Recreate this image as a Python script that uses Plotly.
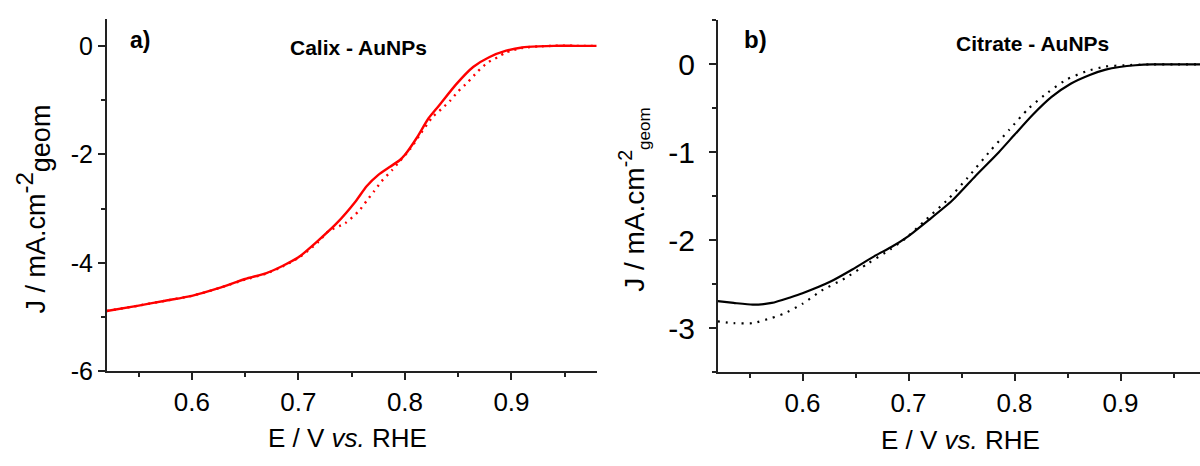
import plotly.graph_objects as go

# ---------------- data ----------------
# Panel a) Calix - AuNPs (red)
E_A_SOLID = [0.52, 0.55, 0.575, 0.60, 0.625, 0.65, 0.67, 0.685, 0.70, 0.718, 0.736, 0.754,
             0.764, 0.775, 0.786, 0.795, 0.80, 0.811, 0.822, 0.832, 0.848, 0.864, 0.879,
             0.895, 0.91, 0.925, 0.94, 0.96, 0.98]
J_A_SOLID = [-4.89, -4.79, -4.70, -4.61, -4.47, -4.30, -4.19, -4.06, -3.90, -3.60, -3.27, -2.86,
             -2.59, -2.38, -2.23, -2.11, -2.01, -1.70, -1.34, -1.10, -0.71, -0.39, -0.21,
             -0.09, -0.03, -0.01, 0.0, 0.0, 0.0]
E_A_DOT = [0.52, 0.55, 0.575, 0.60, 0.625, 0.65, 0.67, 0.685, 0.70, 0.718, 0.728, 0.744, 0.757,
           0.764, 0.771, 0.778, 0.788, 0.795, 0.805, 0.815, 0.826, 0.834, 0.842, 0.8495, 0.859,
           0.868, 0.8776, 0.887, 0.895, 0.91, 0.925, 0.94, 0.96, 0.98]
J_A_DOT = [-4.89, -4.79, -4.70, -4.61, -4.47, -4.31, -4.20, -4.07, -3.91, -3.63, -3.42, -3.27, -3.04,
           -2.86, -2.68, -2.50, -2.29, -2.13, -1.90, -1.61, -1.31, -1.17, -1.02, -0.85, -0.67,
           -0.48, -0.31, -0.21, -0.12, -0.04, -0.01, 0.0, 0.0, 0.0]

# Panel b) Citrate - AuNPs (black)
E_B_SOLID = [0.52, 0.535, 0.553, 0.571, 0.589, 0.60, 0.626, 0.647, 0.669, 0.683, 0.70, 0.719,
             0.741, 0.763, 0.785, 0.80, 0.817, 0.835, 0.853, 0.871, 0.886, 0.899, 0.914, 0.93,
             0.95, 0.975]
J_B_SOLID = [-2.69, -2.71, -2.73, -2.71, -2.645, -2.60, -2.47, -2.33, -2.17, -2.08, -1.95, -1.77,
             -1.55, -1.27, -1.00, -0.80, -0.575, -0.37, -0.22, -0.12, -0.06, -0.03, -0.01, 0.0,
             0.0, 0.0]
E_B_DOT = [0.52, 0.535, 0.553, 0.571, 0.582, 0.60, 0.618, 0.64, 0.662, 0.683, 0.698, 0.716,
           0.7375, 0.7556, 0.7773, 0.7953, 0.8133, 0.8314, 0.8494, 0.8675, 0.8856, 0.904, 0.93,
           0.95, 0.975]
J_B_DOT = [-2.92, -2.94, -2.94, -2.88, -2.835, -2.72, -2.57, -2.43, -2.26, -2.10, -1.97, -1.77,
           -1.53, -1.29, -0.98, -0.74, -0.50, -0.32, -0.17, -0.08, -0.025, -0.01, 0.0, 0.0, 0.0]

# tick labels
X_TICKS = [0.6, 0.7, 0.8, 0.9]
X_LABELS = ["0.6", "0.7", "0.8", "0.9"]
A_Y_TICKS = [-6, -4, -2, 0]
A_Y_LABELS = ["-6", "-4", "-2", "0"]
B_Y_TICKS = [-3, -2, -1, 0]
B_Y_LABELS = ["-3", "-2", "-1", "0"]

FONT = "Arial, Liberation Sans, sans-serif"
W, H = 1200, 466
AX = "#222222"

def px(x):
    return x / W

def py(y):
    return 1 - y / H

fig = go.Figure()
fig.add_trace(go.Scatter(x=E_A_DOT, y=J_A_DOT, mode="lines", xaxis="x", yaxis="y",
                         line=dict(color="#ff0000", width=2.4, dash="2px,5px", shape="spline", smoothing=0.6)))
fig.add_trace(go.Scatter(x=E_A_SOLID, y=J_A_SOLID, mode="lines", xaxis="x", yaxis="y",
                         line=dict(color="#ff0000", width=2.4, shape="spline", smoothing=0.6)))
fig.add_trace(go.Scatter(x=E_B_DOT, y=J_B_DOT, mode="lines", xaxis="x2", yaxis="y2",
                         line=dict(color="#000000", width=2.2, dash="2px,6px", shape="spline", smoothing=0.6)))
fig.add_trace(go.Scatter(x=E_B_SOLID, y=J_B_SOLID, mode="lines", xaxis="x2", yaxis="y2",
                         line=dict(color="#000000", width=2.2, shape="spline", smoothing=0.6)))

common = dict(showgrid=False, zeroline=False, showline=True, linecolor=AX, linewidth=1.5,
              ticks="outside", ticklen=7, tickwidth=1.5, tickcolor=AX, tickmode="array")

fig.update_layout(
    width=W, height=H, margin=dict(l=0, r=0, t=0, b=0),
    paper_bgcolor="white", plot_bgcolor="white", showlegend=False,
    font=dict(family=FONT, color="#000000", size=16),
    xaxis=dict(domain=[px(106.7), px(596.7)], range=[0.52, 0.98], anchor="y",
               tickvals=X_TICKS, ticktext=X_LABELS, tickfont=dict(size=26, family=FONT),
               minor=dict(ticks="outside", ticklen=4, tickwidth=1.5, tickcolor=AX, tick0=0.55, dtick=0.1),
               **common),
    yaxis=dict(domain=[py(382.7), py(19.3)], range=[-6, 0.5], anchor="x",
               tickvals=A_Y_TICKS, ticktext=A_Y_LABELS, tickfont=dict(size=25, family=FONT),
               minor=dict(ticks="outside", ticklen=4, tickwidth=1.5, tickcolor=AX, tick0=-5, dtick=2),
               **common),
    xaxis2=dict(domain=[px(717.7), 1.0], range=[0.52, 0.975], anchor="y2",
                tickvals=X_TICKS, ticktext=X_LABELS, tickfont=dict(size=26, family=FONT),
                minor=dict(ticks="outside", ticklen=4, tickwidth=1.5, tickcolor=AX, tick0=0.55, dtick=0.1),
                **common),
    yaxis2=dict(domain=[py(384), py(21)], range=[-3.5, 0.5], anchor="x2",
                tickvals=B_Y_TICKS, ticktext=B_Y_LABELS, tickfont=dict(size=30, family=FONT),
                ticklabelstandoff=8,
                minor=dict(ticks="outside", ticklen=4, tickwidth=1.5, tickcolor=AX, tick0=-3.5, dtick=1),
                **common),
)

ann = []
def add(text, x, y, size, bold=False, angle=0):
    ann.append(dict(text=("<b>%s</b>" % text) if bold else text, x=px(x), y=py(y),
                    xref="paper", yref="paper", xanchor="center", yanchor="middle",
                    showarrow=False, textangle=angle, font=dict(family=FONT, size=size, color="#000")))

add("a)", 140, 41, 23, bold=True)
add("Calix - AuNPs", 358, 49, 21, bold=True)
add("b)", 755.5, 41, 24, bold=True)
add("Citrate - AuNPs", 1032, 45, 21, bold=True)
add("E / V <i>vs.</i> RHE", 347, 452, 26)
add("E / V <i>vs.</i> RHE", 960.6, 454, 26)
add("J / mA.cm<sup><span style='font-size:24px'>-2</span></sup><sub><span style='font-size:27px'>geom</span></sub>",
    34, 216, 27, angle=-90)
add("J / mA.cm<sup>-2</sup><sub><span style='font-size:17px'>geom</span></sub>", 634, 206, 28, angle=-90)
fig.update_layout(annotations=ann)

fig.write_html("out.html")
